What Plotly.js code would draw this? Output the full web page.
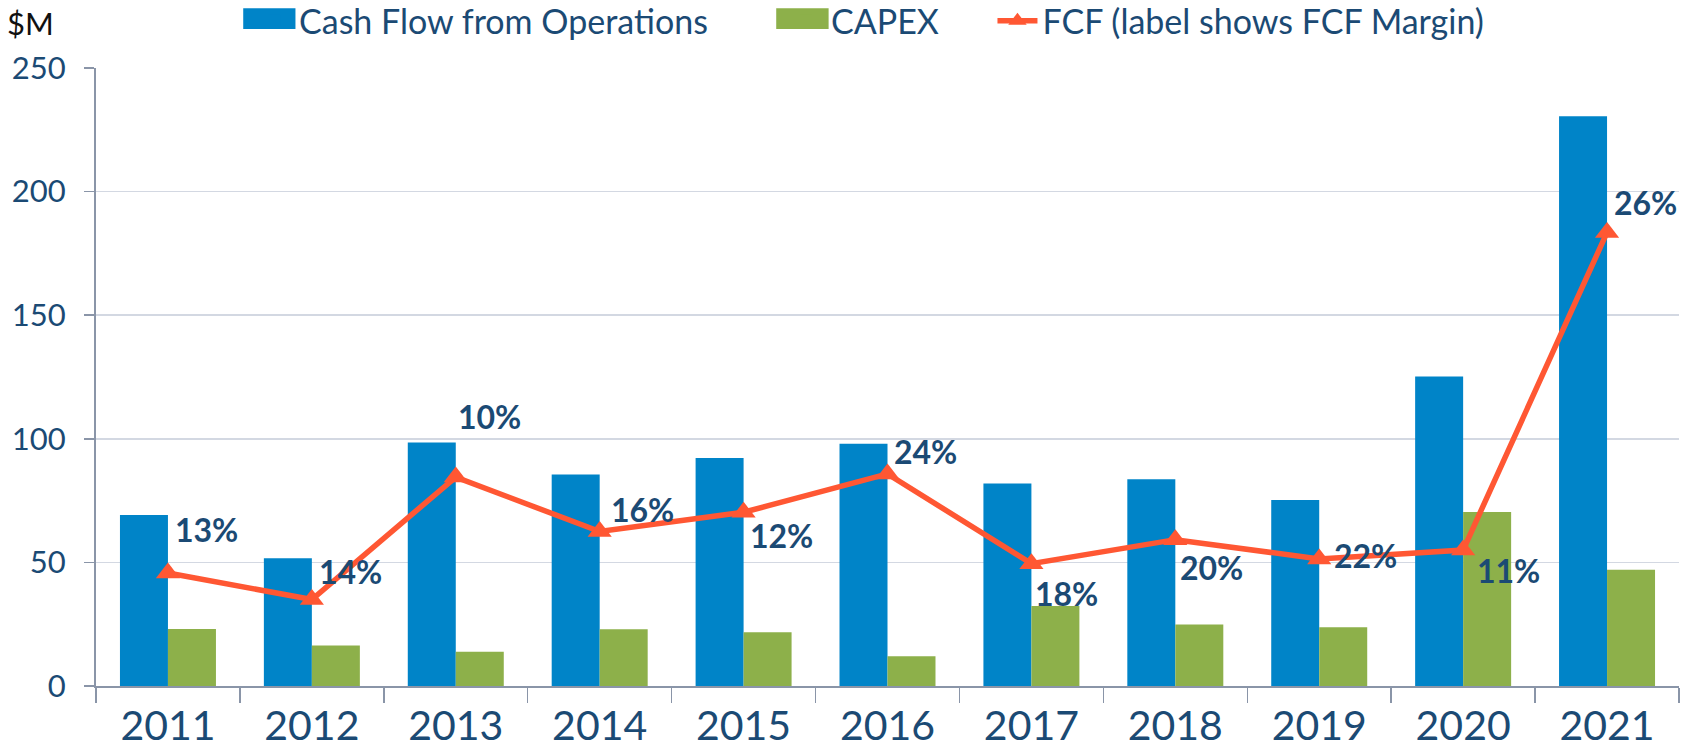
<!DOCTYPE html>
<html>
<head>
<meta charset="utf-8">
<script src="https://cdn.plot.ly/plotly-3.0.1.min.js"></script>
<style>
  html, body { margin: 0; padding: 0; background: #fff; }
  #chart { width: 1685px; height: 753px; }
</style>
</head>
<body>
<div id="chart"></div>
<script>
// ---- data ----
const years = ['2011', '2012', '2013', '2014', '2015', '2016', '2017', '2018', '2019', '2020', '2021'];
const cashFlowOps = [69.2, 51.7, 98.5, 85.6, 92.2, 98.0, 81.9, 83.6, 75.2, 125.2, 230.5];
const capex = [23.1, 16.4, 13.9, 23.0, 21.7, 12.0, 32.4, 24.9, 23.8, 70.4, 47.0];
const fcf = [45.7, 35.0, 84.5, 62.5, 70.3, 85.8, 49.5, 59.2, 51.4, 55.0, 183.5];
const fcfMarginLabels = ['13%', '14%', '10%', '16%', '12%', '24%', '18%', '20%', '22%', '11%', '26%'];
const yTickValues = [0, 50, 100, 150, 200, 250];

// ---- style / label placement (pixels, dx right, dy down) ----
const labelShift = [[39, -44], [39, -28], [34, -61], [43, -22], [38, 23], [38, -22],
                    [35, 30], [36, 28], [46, -3], [45, 20], [38, -30]];

const FONT = 'Lato, "Open Sans", sans-serif';
const NAVY = '#1B4A74';
const BLUE = '#0084C8', GREEN = '#8DB04A', ORANGE = '#FF5733';

const traces = [
  {
    type: 'bar', name: 'Cash Flow from Operations', x: years, y: cashFlowOps,
    marker: { color: BLUE }, legend: 'legend', hoverinfo: 'skip'
  },
  {
    type: 'bar', name: 'CAPEX', x: years, y: capex,
    marker: { color: GREEN }, legend: 'legend2', hoverinfo: 'skip'
  },
  {
    type: 'scatter', mode: 'lines+markers', name: 'FCF (label shows FCF Margin)',
    x: years, y: fcf,
    line: { color: ORANGE, width: 5.5 },
    marker: { symbol: 'triangle-up', size: 21, color: ORANGE },
    legend: 'legend3', hoverinfo: 'skip'
  }
];

const annotations = fcfMarginLabels.map((t, i) => ({
  x: i, y: fcf[i], xref: 'x', yref: 'y', text: '<b>' + t + '</b>',
  showarrow: false, xshift: labelShift[i][0], yshift: -labelShift[i][1],
  font: { family: FONT, size: 32, color: NAVY }
}));
annotations.push({
  xref: 'paper', yref: 'paper', x: -0.0414, y: 1.0723, xanchor: 'center', yanchor: 'middle',
  text: '$M', showarrow: false, font: { family: FONT, size: 31, color: '#111' }
});

// larger legend swatches (paper coordinates of the legend band above the plot)
const shapes = [
  { type: 'rect', xref: 'paper', yref: 'paper', x0: 0.0930, x1: 0.1260, y0: 1.0632, y1: 1.0966,
    fillcolor: BLUE, line: { width: 0 }, layer: 'above' },
  { type: 'rect', xref: 'paper', yref: 'paper', x0: 0.4297, x1: 0.4628, y0: 1.0632, y1: 1.0966,
    fillcolor: GREEN, line: { width: 0 }, layer: 'above' }
];

const legendBase = {
  orientation: 'h', xref: 'container', yref: 'container', y: 0.972, yanchor: 'middle', xanchor: 'left',
  font: { family: FONT, size: 34, color: NAVY }, bgcolor: 'rgba(0,0,0,0)',
  itemwidth: 40, tracegroupgap: 0
};

const layout = {
  width: 1685, height: 753,
  margin: { l: 95.5, r: 6, t: 67.7, b: 67.4, autoexpand: false },
  paper_bgcolor: '#fff', plot_bgcolor: '#fff',
  barmode: 'group', bargap: 0.333, bargroupgap: 0,
  font: { family: FONT, color: NAVY },
  showlegend: true,
  legend: Object.assign({}, legendBase, { x: 0.1478 }),
  legend2: Object.assign({}, legendBase, { x: 0.4635 }),
  legend3: Object.assign({}, legendBase, { x: 0.5890 }),
  xaxis: {
    type: 'category', range: [-0.5, 10.5], autorange: false,
    tickson: 'boundaries', ticks: 'outside', ticklen: 15, tickwidth: 1.5,
    tickcolor: '#8A95A8', showline: true, linecolor: '#8A95A8', linewidth: 2,
    showgrid: false, zeroline: false, tickangle: 0,
    tickfont: { family: FONT, size: 41, color: NAVY }, ticklabelstandoff: 3
  },
  yaxis: {
    range: [0, 250], autorange: false, tickvals: yTickValues, ticks: 'outside', ticklen: 10, tickwidth: 1.5,
    tickcolor: '#8A95A8', showline: true, linecolor: '#8A95A8', linewidth: 2,
    showgrid: true, gridcolor: '#D3D8E2', gridwidth: 1.5, zeroline: false,
    tickfont: { family: FONT, size: 31, color: NAVY }, ticklabelstandoff: 12
  },
  shapes: shapes,
  annotations: annotations
};

Plotly.newPlot('chart', traces, layout, { staticPlot: true, displayModeBar: false });
</script>
</body>
</html>
